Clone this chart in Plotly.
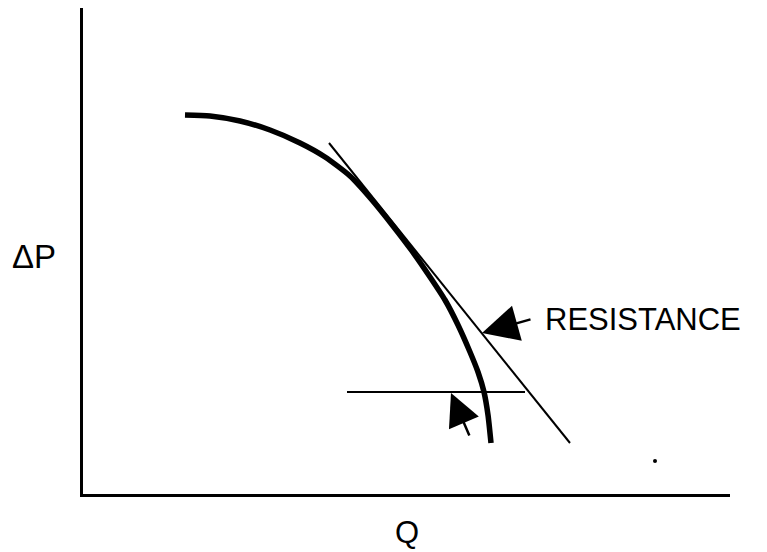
import plotly.graph_objects as go

# Coordinates in chart units (origin at axes corner, 1 unit ~ 1 px)
curve_q = [102, 127, 157, 187, 217, 242, 267, 289, 310, 329, 347, 362, 375, 387, 395, 401, 405, 408]
curve_dp = [379, 378, 373, 364, 351, 337, 318, 294, 268, 243, 217, 194, 169, 142, 122, 102, 79, 51]

tangent_q = [246, 487]
tangent_dp = [351, 51]

operating_q = [264, 442]
operating_dp = [102, 102]

speck_q = [572]
speck_dp = [33]

# arrows: [tail, head]
resistance_arrow_q = [449, 399]
resistance_arrow_dp = [175, 161]
small_arrow_q = [387, 368]
small_arrow_dp = [57, 101]

label_resistance = "RESISTANCE"
label_y = "ΔP"
label_x = "Q"

FONT = "Liberation Sans, Arial, sans-serif"

fig = go.Figure()
fig.add_trace(go.Scatter(x=curve_q, y=curve_dp, mode="lines",
                         line=dict(color="black", width=5.5, shape="spline", smoothing=0.6),
                         hoverinfo="skip"))
fig.add_trace(go.Scatter(x=tangent_q, y=tangent_dp, mode="lines",
                         line=dict(color="black", width=2), hoverinfo="skip"))
fig.add_trace(go.Scatter(x=operating_q, y=operating_dp, mode="lines",
                         line=dict(color="black", width=2), hoverinfo="skip"))
fig.add_trace(go.Scatter(x=speck_q, y=speck_dp, mode="markers",
                         marker=dict(color="black", size=4), hoverinfo="skip"))

fig.add_annotation(x=resistance_arrow_q[1], y=resistance_arrow_dp[1],
                   ax=resistance_arrow_q[0], ay=resistance_arrow_dp[0],
                   xref="x", yref="y", axref="x", ayref="y", text="",
                   showarrow=True, arrowhead=2, arrowsize=2.9, arrowwidth=2.5,
                   arrowcolor="black")
fig.add_annotation(x=small_arrow_q[1], y=small_arrow_dp[1],
                   ax=small_arrow_q[0], ay=small_arrow_dp[0],
                   xref="x", yref="y", axref="x", ayref="y", text="",
                   showarrow=True, arrowhead=2, arrowsize=2.6, arrowwidth=2.5,
                   arrowcolor="black")

fig.add_annotation(x=460, y=175, xref="x", yref="y", text=label_resistance,
                   showarrow=False, xanchor="left", yanchor="middle",
                   font=dict(family=FONT, size=31, color="black"))
fig.add_annotation(x=(34 - 83) / 647, y=(494 - 256) / 486, xref="paper", yref="paper",
                   text=label_y, showarrow=False, xanchor="center", yanchor="middle",
                   font=dict(family=FONT, size=33, color="black"))
fig.add_annotation(x=(407 - 83) / 647, y=(494 - 532) / 486, xref="paper", yref="paper",
                   text=label_x, showarrow=False, xanchor="center", yanchor="middle",
                   font=dict(family=FONT, size=31, color="black"))

fig.update_layout(
    width=767, height=552,
    margin=dict(l=75, r=45, t=0, b=66),
    paper_bgcolor="white", plot_bgcolor="white",
    showlegend=False,
    xaxis=dict(range=[0, 647], showgrid=False, zeroline=False, showticklabels=False,
               ticks="", showline=True, linecolor="black", linewidth=3, fixedrange=True),
    yaxis=dict(range=[0, 486], showgrid=False, zeroline=False, showticklabels=False,
               ticks="", showline=True, linecolor="black", linewidth=3, fixedrange=True),
)

fig.write_html("out.html")
